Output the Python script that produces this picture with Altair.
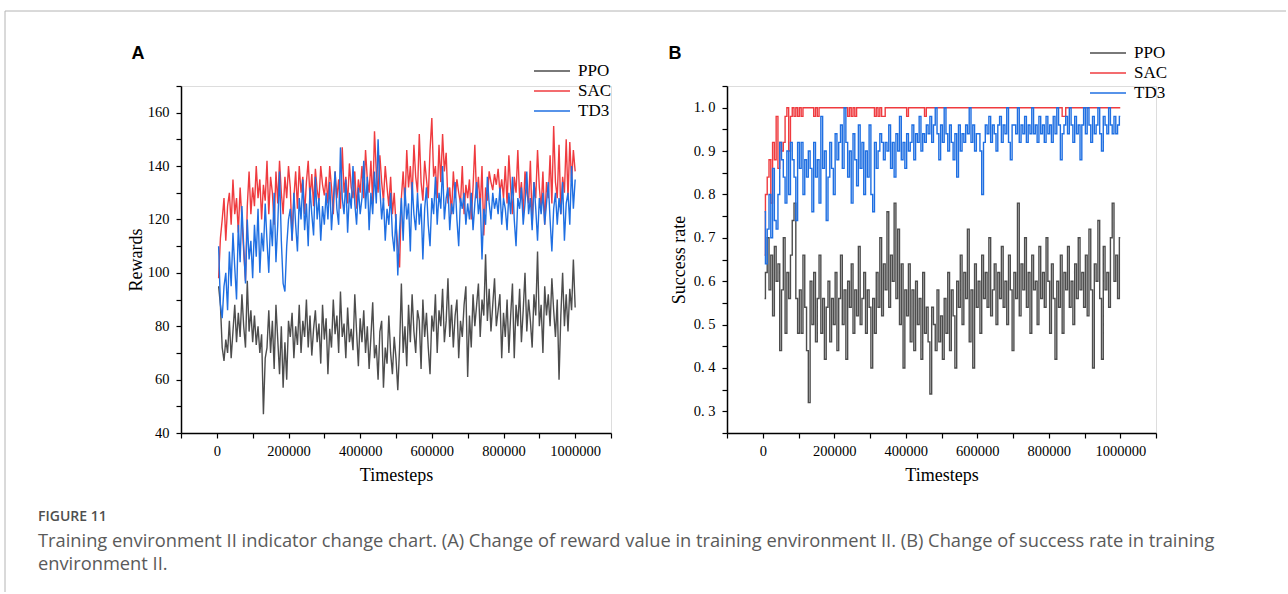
import altair as alt
import pandas as pd

SERIES = ["PPO", "SAC", "TD3"]
COLORS = ["#4d4d4d", "#ef3b3f", "#1f6fe2"]
STEP = 5000
TIMESTEPS = [STEP * (i + 1) for i in range(200)]

X_TICKS = [-100000, 0, 100000, 200000, 300000, 400000, 500000, 600000, 700000, 800000, 900000, 1000000, 1100000]
Y_TICKS_A = [40, 50, 60, 70, 80, 90, 100, 110, 120, 130, 140, 150, 160, 170]
Y_TICKS_B = [0.25, 0.3, 0.35, 0.4, 0.45, 0.5, 0.55, 0.6, 0.65, 0.7, 0.75, 0.8, 0.85, 0.9, 0.95, 1.0, 1.05]

PPO_REWARD = [
    95, 88, 72, 67, 75, 70, 82, 68, 78, 88, 74, 85, 76, 92, 80, 72, 97, 78, 86, 74,
    84, 73, 80, 70, 77, 47, 68, 72, 86, 70, 82, 64, 88, 75, 62, 80, 57, 74, 60, 82,
    76, 85, 68, 80, 73, 88, 70, 82, 76, 90, 72, 84, 69, 79, 86, 74, 81, 66, 88, 75,
    83, 62, 79, 72, 90, 77, 84, 70, 93, 76, 81, 68, 87, 74, 79, 71, 92, 78, 65, 83,
    74, 86, 70, 80, 64, 76, 89, 68, 73, 60, 78, 82, 57, 72, 66, 84, 70, 62, 76, 68,
    56, 72, 96, 70, 80, 65, 88, 74, 92, 78, 70, 86, 82, 64, 90, 76, 85, 72, 62, 84,
    78, 92, 70, 86, 80, 94, 74, 82, 98, 76, 88, 72, 84, 90, 68, 82, 76, 88, 95, 61,
    84, 72, 92, 80, 88, 96, 76, 90, 84, 107, 82, 94, 78, 88, 98, 80, 86, 92, 68, 85,
    76, 90, 70, 84, 96, 68, 88, 80, 94, 74, 86, 100, 78, 90, 82, 72, 92, 84, 108, 80,
    88, 70, 95, 84, 92, 80, 98, 86, 76, 90, 60, 84, 100, 80, 92, 78, 94, 86, 105, 87,
]
SAC_REWARD = [
    98, 113, 120, 128, 112, 125, 130, 118, 135, 122, 128, 115, 132, 120, 108, 97, 125, 138, 122, 132,
    125, 140, 128, 135, 120, 133, 127, 142, 122, 136, 130, 118, 138, 126, 142, 130, 122, 136, 128, 140,
    132, 112, 128, 138, 124, 140, 130, 136, 122, 134, 142, 128, 137, 125, 139, 131, 127, 140, 133, 129,
    136, 126, 140, 132, 122, 138, 128, 135, 124, 147, 130, 136, 126, 141, 132, 128, 138, 124, 135, 130,
    140, 128, 146, 135, 130, 142, 126, 153, 138, 130, 144, 134, 127, 140, 132, 125, 136, 122, 130, 118,
    110, 102, 128, 138, 125, 146, 132, 140, 128, 148, 136, 130, 152, 134, 127, 142, 135, 128, 146, 158,
    136, 140, 128, 148, 134, 152, 138, 145, 126, 132, 122, 138, 128, 135, 130, 126, 140, 122, 133, 128,
    135, 120, 132, 148, 128, 136, 124, 140, 114, 132, 127, 138, 134, 131, 137, 133, 139, 130, 135, 128,
    140, 126, 144, 132, 122, 136, 130, 146, 128, 134, 122, 138, 130, 126, 142, 118, 134, 128, 146, 132,
    124, 138, 118, 134, 128, 144, 126, 155, 134, 128, 148, 122, 136, 130, 150, 128, 149, 134, 146, 138,
]
TD3_REWARD = [
    110, 88, 83, 95, 100, 86, 108, 95, 115, 102, 90, 118, 104, 125, 110, 96, 120, 105, 112, 98,
    118, 106, 124, 100, 115, 108, 126, 112, 100, 120, 110, 130, 104, 118, 138, 112, 96, 93, 110, 120,
    124, 112, 130, 118, 108, 128, 120, 135, 116, 126, 110, 132, 122, 114, 136, 120, 128, 112, 125, 118,
    130, 120, 134, 116, 127, 138, 124, 118, 147, 128, 122, 135, 115, 130, 124, 140, 126, 118, 132, 122,
    128, 142, 124, 136, 116, 130, 122, 138, 126, 150, 132, 120, 128, 112, 124, 118, 130, 114, 108, 122,
    99, 116, 128, 112, 132, 120, 126, 108, 134, 122, 116, 130, 118, 126, 105, 124, 132, 118, 110, 128,
    122, 136, 118, 130, 124, 140, 120, 128, 132, 116, 126, 122, 134, 120, 110, 128, 124, 130, 118, 126,
    120, 130, 116, 126, 134, 122, 128, 105, 124, 118, 136, 126, 120, 130, 124, 128, 122, 132, 118, 128,
    124, 116, 130, 122, 136, 120, 110, 128, 124, 132, 118, 126, 138, 122, 128, 116, 134, 124, 112, 128,
    122, 130, 118, 126, 134, 120, 108, 124, 130, 118, 128, 122, 134, 112, 126, 130, 118, 140, 124, 135,
]

PPO_SUCCESS = [
    0.56, 0.62, 0.70, 0.58, 0.66, 0.52, 0.68, 0.60, 0.64, 0.44, 0.58, 0.70, 0.48, 0.62, 0.56, 0.66, 0.74, 0.78, 0.56, 0.48,
    0.58, 0.48, 0.66, 0.54, 0.44, 0.32, 0.60, 0.50, 0.62, 0.46, 0.56, 0.66, 0.48, 0.56, 0.42, 0.54, 0.60, 0.46, 0.56, 0.50,
    0.62, 0.44, 0.56, 0.66, 0.50, 0.58, 0.42, 0.60, 0.54, 0.64, 0.48, 0.58, 0.52, 0.68, 0.50, 0.56, 0.62, 0.48, 0.58, 0.54,
    0.40, 0.56, 0.48, 0.62, 0.54, 0.70, 0.52, 0.64, 0.58, 0.76, 0.54, 0.66, 0.60, 0.78, 0.56, 0.72, 0.50, 0.64, 0.40, 0.58,
    0.52, 0.64, 0.46, 0.58, 0.44, 0.60, 0.50, 0.56, 0.42, 0.62, 0.48, 0.54, 0.46, 0.34, 0.54, 0.50, 0.44, 0.58, 0.46, 0.52,
    0.42, 0.56, 0.48, 0.62, 0.44, 0.58, 0.52, 0.40, 0.60, 0.54, 0.66, 0.50, 0.62, 0.56, 0.72, 0.46, 0.58, 0.40, 0.64, 0.54,
    0.60, 0.48, 0.66, 0.56, 0.62, 0.54, 0.70, 0.52, 0.58, 0.64, 0.50, 0.62, 0.56, 0.68, 0.54, 0.60, 0.50, 0.66, 0.58, 0.44,
    0.62, 0.56, 0.78, 0.52, 0.64, 0.58, 0.70, 0.54, 0.62, 0.48, 0.66, 0.58, 0.60, 0.50, 0.68, 0.56, 0.62, 0.54, 0.70, 0.60,
    0.48, 0.64, 0.56, 0.42, 0.60, 0.54, 0.66, 0.48, 0.62, 0.58, 0.68, 0.54, 0.60, 0.50, 0.64, 0.56, 0.70, 0.58, 0.62, 0.54,
    0.66, 0.52, 0.72, 0.58, 0.40, 0.64, 0.60, 0.74, 0.56, 0.42, 0.68, 0.58, 0.62, 0.54, 0.70, 0.78, 0.60, 0.66, 0.56, 0.70,
]
SAC_SUCCESS = [
    0.66, 0.80, 0.84, 0.88, 0.78, 0.92, 0.88, 0.98, 0.86, 0.92, 0.90, 0.92, 0.98, 1.0, 0.90, 0.98, 1.0, 0.98, 1.0, 0.98,
    1.0, 0.98, 1.0, 1.0, 1.0, 1.0, 1.0, 1.0, 0.98, 1.0, 0.98, 1.0, 1.0, 1.0, 1.0, 1.0, 1.0, 1.0, 1.0, 1.0,
    1.0, 1.0, 1.0, 1.0, 1.0, 1.0, 1.0, 0.98, 1.0, 0.98, 1.0, 0.98, 1.0, 1.0, 1.0, 1.0, 1.0, 1.0, 1.0, 1.0,
    1.0, 1.0, 0.98, 1.0, 0.98, 1.0, 0.98, 0.98, 1.0, 1.0, 1.0, 1.0, 1.0, 1.0, 1.0, 1.0, 1.0, 1.0, 1.0, 1.0,
    0.98, 1.0, 1.0, 1.0, 1.0, 1.0, 1.0, 1.0, 1.0, 1.0, 0.98, 1.0, 1.0, 1.0, 1.0, 1.0, 1.0, 1.0, 1.0, 1.0,
    1.0, 1.0, 1.0, 1.0, 1.0, 1.0, 1.0, 1.0, 1.0, 1.0, 1.0, 1.0, 1.0, 1.0, 1.0, 1.0, 1.0, 1.0, 1.0, 1.0,
    1.0, 1.0, 1.0, 1.0, 1.0, 1.0, 1.0, 1.0, 1.0, 1.0, 1.0, 1.0, 1.0, 1.0, 1.0, 1.0, 1.0, 1.0, 1.0, 1.0,
    1.0, 1.0, 1.0, 1.0, 1.0, 1.0, 1.0, 1.0, 1.0, 1.0, 1.0, 1.0, 1.0, 1.0, 1.0, 1.0, 1.0, 1.0, 1.0, 1.0,
    1.0, 1.0, 1.0, 1.0, 1.0, 1.0, 1.0, 0.98, 0.98, 1.0, 1.0, 1.0, 1.0, 1.0, 1.0, 1.0, 1.0, 1.0, 1.0, 1.0,
    1.0, 1.0, 1.0, 1.0, 1.0, 1.0, 1.0, 1.0, 1.0, 1.0, 1.0, 1.0, 1.0, 1.0, 1.0, 1.0, 1.0, 1.0, 1.0, 1.0,
]
TD3_SUCCESS = [
    0.76, 0.64, 0.72, 0.80, 0.70, 0.86, 0.74, 0.72, 0.80, 0.92, 0.88, 0.84, 0.78, 0.90, 0.80, 0.92, 0.88, 0.84, 0.74, 0.92,
    0.86, 0.92, 0.80, 0.88, 0.84, 0.90, 0.86, 0.76, 0.92, 0.84, 0.88, 0.78, 0.98, 0.86, 0.90, 0.74, 0.84, 0.92, 0.86, 0.80,
    0.94, 0.88, 0.92, 0.96, 0.86, 1.0, 0.92, 0.84, 0.90, 0.78, 0.94, 0.88, 0.82, 0.96, 0.86, 0.92, 0.80, 0.90, 0.84, 0.96,
    0.80, 0.76, 0.92, 0.86, 0.90, 0.94, 0.92, 0.88, 0.92, 0.90, 0.96, 0.86, 0.92, 0.84, 0.94, 0.90, 0.98, 0.88, 0.92, 0.86,
    0.94, 0.90, 0.92, 0.96, 0.88, 0.94, 0.92, 0.98, 0.90, 0.94, 0.92, 0.96, 0.94, 0.98, 0.92, 0.96, 1.0, 0.94, 0.88, 0.96,
    0.92, 1.0, 0.94, 0.90, 0.96, 0.92, 0.88, 0.94, 0.84, 0.96, 0.90, 0.94, 0.92, 0.96, 0.94, 1.0, 0.92, 0.96, 0.90, 0.94,
    0.94, 0.90, 0.80, 0.92, 0.96, 0.94, 0.98, 0.92, 0.96, 0.94, 0.90, 0.96, 0.98, 0.92, 0.96, 0.94, 1.0, 0.92, 0.88, 0.96,
    0.96, 0.94, 1.0, 0.92, 0.96, 0.94, 0.98, 0.92, 0.96, 0.94, 1.0, 0.94, 0.96, 0.92, 0.98, 0.94, 0.96, 0.92, 0.98, 0.94,
    0.96, 0.92, 0.98, 0.94, 1.0, 0.96, 0.88, 0.94, 0.96, 0.98, 0.94, 1.0, 0.96, 0.92, 0.98, 0.94, 0.96, 0.88, 0.96, 1.0,
    0.94, 1.0, 0.96, 0.92, 0.98, 0.94, 0.96, 1.0, 0.94, 0.90, 0.98, 0.96, 0.94, 1.0, 0.96, 0.94, 0.98, 0.94, 0.96, 0.98,
]

CAPTION_HEAD = "FIGURE 11"
CAPTION_LINE1 = ("Training environment II indicator change chart. (A) Change of reward value in training "
                 "environment II. (B) Change of success rate in training")
CAPTION_LINE2 = "environment II."


def long_df(series_values):
    rows = []
    for name, vals in zip(SERIES, series_values):
        if len(vals) != len(TIMESTEPS):
            raise ValueError(f"{name}: {len(vals)} values")
        for t, v in zip(TIMESTEPS, vals):
            rows.append({"t": t, "value": v, "series": name})
    return pd.DataFrame(rows)


reward_df = long_df([PPO_REWARD, SAC_REWARD, TD3_REWARD])
success_df = long_df([PPO_SUCCESS, SAC_SUCCESS, TD3_SUCCESS])
legend_df = pd.DataFrame({"series": SERIES})

SERIF = "Liberation Serif"
W_A, W_B, H = 430, 429, 347

color_enc = alt.Color("series:N", scale=alt.Scale(domain=SERIES, range=COLORS), legend=None)

axis_common = dict(
    domainColor="black", domainWidth=1.5, tickColor="black", tickWidth=1.2, tickSize=5,
    labelFont=SERIF, labelFontSize=14.5, labelColor="black",
    titleFont=SERIF, titleFontSize=18, titleFontWeight="normal", titleColor="black",
    grid=False, labelOverlap=False, labelFlush=False,
)


def x_axis(width):
    return alt.Axis(
        values=X_TICKS,
        labelExpr="(datum.value >= 0 && datum.value % 200000 == 0) ? format(datum.value, 'd') : ''",
        title="Timesteps", titleX=width / 2, titleY=42, titleBaseline="middle",
        labelPadding=6, **axis_common,
    )


def legend_layers(y_range, line_x, text_x):
    ly = alt.Y("series:N", scale=alt.Scale(type="point", domain=SERIES, range=y_range, padding=0), axis=None)
    rules = alt.Chart(legend_df).mark_rule(strokeWidth=1.5).encode(
        x=alt.value(line_x), x2=alt.value(line_x + 36), y=ly, color=color_enc)
    texts = alt.Chart(legend_df).mark_text(
        align="left", baseline="middle", font=SERIF, fontSize=17, color="black").encode(
        x=alt.value(text_x), y=ly, text="series:N")
    return rules, texts


def letter(text, x, y):
    return alt.Chart(pd.DataFrame({"label": [text]})).mark_text(
        font="Liberation Sans", fontSize=18, fontWeight="bold", align="center", baseline="middle",
        color="black").encode(x=alt.value(x), y=alt.value(y), text="label:N")


one = pd.DataFrame({"k": [0]})

# ---------- Panel A ----------
lines_a = alt.Chart(reward_df).mark_line(strokeWidth=1.4).encode(
    x=alt.X("t:Q", scale=alt.Scale(domain=[-100000, 1100000], nice=False, zero=False), axis=x_axis(W_A)),
    y=alt.Y("value:Q", scale=alt.Scale(domain=[40, 170], nice=False, zero=False),
            axis=alt.Axis(values=Y_TICKS_A, labelExpr="datum.value % 20 == 0 ? datum.label : ''",
                          title="Rewards", titleX=-45, titleY=H / 2, titleBaseline="middle",
                          labelPadding=7, **axis_common)),
    color=color_enc,
)
rules_a, texts_a = legend_layers([-15, 25], 353, 397)

frame_v = alt.Chart(one).mark_rule(color="#b4b4b4", strokeWidth=1).encode(
    x=alt.value(-176), y=alt.value(-75), y2=alt.value(506))
frame_h = alt.Chart(one).mark_rule(color="#b4b4b4", strokeWidth=1).encode(
    x=alt.value(-176), x2=alt.value(1105), y=alt.value(-75))

CAP_X = -143
cap_head = alt.Chart(pd.DataFrame({"txt": [CAPTION_HEAD]})).mark_text(
    align="left", baseline="middle", font="Open Sans", fontSize=14, fontWeight=600, color="#4f4f4f").encode(
    x=alt.value(CAP_X), y=alt.value(431), text="txt:N")
cap_l1 = alt.Chart(pd.DataFrame({"txt": [CAPTION_LINE1]})).mark_text(
    align="left", baseline="middle", font="Open Sans", fontSize=18.3, color="#5a5a5a").encode(
    x=alt.value(CAP_X), y=alt.value(456), text="txt:N")
cap_l2 = alt.Chart(pd.DataFrame({"txt": [CAPTION_LINE2]})).mark_text(
    align="left", baseline="middle", font="Open Sans", fontSize=18.3, color="#5a5a5a").encode(
    x=alt.value(CAP_X), y=alt.value(479), text="txt:N")

panel_a = alt.layer(
    lines_a, rules_a, texts_a, letter("A", -43, -32), frame_v, frame_h, cap_head, cap_l1, cap_l2
).resolve_scale(y="independent").properties(width=W_A, height=H)

# ---------- Panel B ----------
lines_b = alt.Chart(success_df).mark_line(strokeWidth=1.4, interpolate="step").encode(
    x=alt.X("t:Q", scale=alt.Scale(domain=[-100000, 1100000], nice=False, zero=False), axis=x_axis(W_B)),
    y=alt.Y("value:Q", scale=alt.Scale(domain=[0.25, 1.05], nice=False, zero=False),
            axis=alt.Axis(values=Y_TICKS_B,
                          labelExpr="(round(datum.value * 100) % 10 == 0) ? replace(format(datum.value, '.1f'), '.', '. ') : ''",
                          title="Success rate", titleX=-48, titleY=H / 2, titleBaseline="middle",
                          labelPadding=7, **axis_common)),
    color=color_enc,
)
rules_b, texts_b = legend_layers([-33, 7], 363, 407)

panel_b = alt.layer(lines_b, rules_b, texts_b, letter("B", -52, -32)).resolve_scale(
    y="independent").properties(width=W_B, height=H)

chart = alt.hconcat(panel_a, panel_b, spacing=116, bounds="flush").properties(
    padding={"left": 4, "top": 10, "right": 0, "bottom": 0}
).configure_view(stroke=None).configure(background="white")

chart.save("out.html", embed_options={"renderer": "svg", "actions": False})
